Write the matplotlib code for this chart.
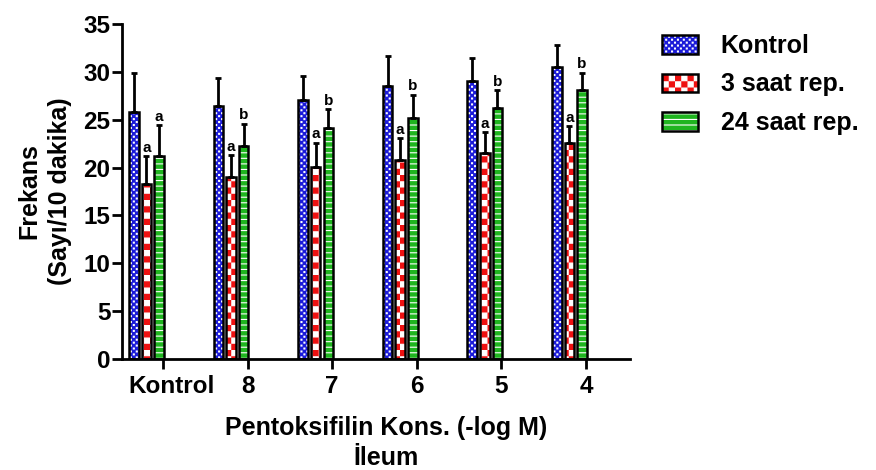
import numpy as np
import matplotlib
matplotlib.use('Agg')
import matplotlib.pyplot as plt
from matplotlib.patches import Patch
from matplotlib.legend_handler import HandlerTuple
from matplotlib.transforms import ScaledTranslation
import matplotlib.hatch as mhatch
from matplotlib.path import Path

# ---------------- data ----------------
categories = ['Kontrol', '8', '7', '6', '5', '4']
series_names = ['Kontrol', '3 saat rep.', '24 saat rep.']
kontrol_mean = [25.8, 26.4, 27.1, 28.5, 29.0, 30.5]
kontrol_err = [4.1, 3.0, 2.5, 3.2, 2.5, 2.3]
rep3_mean = [18.3, 19.0, 20.1, 20.8, 21.5, 22.6]
rep3_err = [2.9, 2.3, 2.5, 2.3, 2.2, 1.7]
rep24_mean = [21.2, 22.3, 24.1, 25.2, 26.2, 28.1]
rep24_err = [3.2, 2.3, 2.0, 2.4, 1.9, 1.8]
kontrol_letters = ['', '', '', '', '', '']
rep3_letters = ['a', 'a', 'a', 'a', 'a', 'a']
rep24_letters = ['a', 'b', 'b', 'b', 'b', 'b']
y_ticks = [0, 5, 10, 15, 20, 25, 30, 35]

HATCH_LW = 0.8  # points


# ------------- checkerboard hatches (replace 'O' and 'o') -------------
class _Checker(mhatch.HatchPatternBase):
    char = 'O'
    per = 16
    shrink = 0.0

    def __init__(self, hatch, density):
        self.n = hatch.count(self.char) * self.per
        self.cells = [(i, j) for i in range(self.n) for j in range(self.n)
                      if (i + j) % 2 == 0]
        self.num_vertices = len(self.cells) * 5

    def set_vertices_and_codes(self, vertices, codes):
        s = 1.0 / self.n
        ins = 0.5 * HATCH_LW / 72.0 + self.shrink * s / 2
        k = 0
        for (i, j) in self.cells:
            x0, y0 = i * s + ins, j * s + ins
            x1, y1 = (i + 1) * s - ins, (j + 1) * s - ins
            vertices[k:k + 5] = [[x0, y0], [x1, y0], [x1, y1], [x0, y1], [x0, y0]]
            codes[k:k + 5] = [Path.MOVETO, Path.LINETO, Path.LINETO,
                              Path.LINETO, Path.CLOSEPOLY]
            k += 5


class CheckerBig(_Checker):
    char = 'O'
    per = 16
    shrink = 0.0


class CheckerSmall(_Checker):
    char = 'o'
    per = 34
    shrink = 0.3


try:
    for idx, ht in enumerate(mhatch._hatch_types):
        if ht is mhatch.LargeCircles:
            mhatch._hatch_types[idx] = CheckerBig
        elif ht is mhatch.SmallCircles:
            mhatch._hatch_types[idx] = CheckerSmall
    blue_hatch, red_hatch = 'o', 'O'
except Exception:
    blue_hatch, red_hatch = '....', '++'

plt.rcParams['font.family'] = ['Liberation Sans', 'DejaVu Sans']
plt.rcParams['font.weight'] = 'bold'
plt.rcParams['hatch.linewidth'] = HATCH_LW

fig = plt.figure(figsize=(8.76, 4.70), dpi=100)
ax = fig.add_axes([122 / 876, 1 - 359 / 470, (630 - 122) / 876, (359 - 24) / 470])

x = np.arange(len(categories))
width = 0.112
offsets = [-0.345, -0.196, -0.047]
means = [kontrol_mean, rep3_mean, rep24_mean]
errs = [kontrol_err, rep3_err, rep24_err]
letters = [kontrol_letters, rep3_letters, rep24_letters]
colors = ['#1a1ad8', '#ee1111', '#1fb51f']
hatches = [blue_hatch, red_hatch, '---']

handles = []
for k in range(3):
    xs = x + offsets[k]
    ax.bar(xs, means[k], width, color=colors[k], edgecolor='white',
           hatch=hatches[k], linewidth=0, zorder=2)
    ax.bar(xs, means[k], width, fill=False, edgecolor='black',
           linewidth=1.8, zorder=3)
    ax.errorbar(xs, means[k], yerr=[np.zeros(len(xs)), errs[k]], fmt='none',
                ecolor='black', elinewidth=2, capsize=2.4, capthick=2, zorder=4)
    for xi, m, e, lab in zip(xs, means[k], errs[k], letters[k]):
        if lab:
            ax.annotate(lab, (xi, m + e), xytext=(0, 1), textcoords='offset points',
                        ha='center', va='bottom', fontsize=11, fontweight='bold')
    handles.append((Patch(facecolor=colors[k], edgecolor='white', hatch=hatches[k],
                          linewidth=0),
                    Patch(fill=False, edgecolor='black', linewidth=1.8)))

ax.set_xlim(-0.485, 5.52)
ax.set_ylim(0, 35)
ax.set_yticks(y_ticks)
ax.set_xticks(x)
ax.set_xticklabels(categories)
for s in ['top', 'right']:
    ax.spines[s].set_visible(False)
for s in ['left', 'bottom']:
    ax.spines[s].set_linewidth(2)
ax.tick_params(axis='both', width=2, length=7.2, labelsize=17.5, pad=1)
ax.tick_params(axis='x', pad=4)

lbl0 = ax.get_xticklabels()[0]
lbl0.set_transform(lbl0.get_transform() + ScaledTranslation(0.09, 0, fig.dpi_scale_trans))

ax.set_ylabel('Frekans\n(Sayı/10 dakika)', fontsize=18, fontweight='bold', labelpad=8,
              linespacing=1.4)
ax.set_xlabel('Pentoksifilin Kons. (-log M)\nİleum', fontsize=18, fontweight='bold',
              labelpad=13, linespacing=1.3)
ax.xaxis.set_label_coords((386 - 122) / 508, -0.17)
ax.xaxis.label.set_va('top')

ax.legend(handles, series_names, handler_map={tuple: HandlerTuple(ndivide=1, pad=0)},
          loc='upper left', bbox_to_anchor=(662 / 876, 1 - 34 / 470),
          bbox_transform=fig.transFigure, frameon=False, fontsize=18,
          handlelength=1.45, handleheight=0.76, handletextpad=0.9,
          labelspacing=0.58, borderpad=0, borderaxespad=0)

fig.savefig('out.png', dpi=100)
